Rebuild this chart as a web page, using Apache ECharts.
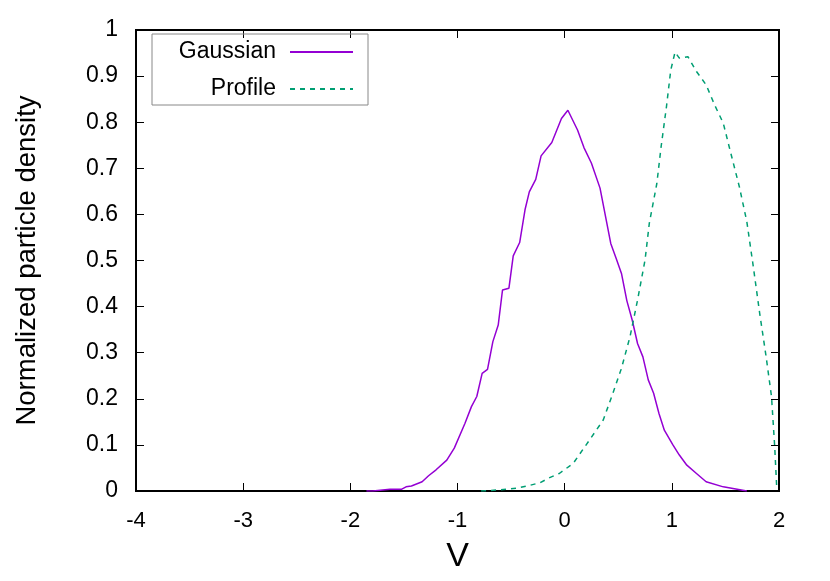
<!DOCTYPE html>
<html>
<head>
<meta charset="utf-8">
<script src="https://cdn.jsdelivr.net/npm/echarts@6/dist/echarts.min.js"></script>
<style>html,body{margin:0;padding:0;background:#fff}#c{width:830px;height:581px}</style>
</head>
<body>
<div id="c"></div>
<script>
const gaussX = [-1.85,-1.79,-1.63,-1.52,-1.48,-1.43,-1.33,-1.27,-1.20,-1.10,-1.03,-0.93,-0.87,-0.82,-0.77,-0.72,-0.67,-0.62,-0.58,-0.52,-0.48,-0.42,-0.37,-0.33,-0.27,-0.22,-0.12,-0.03,0.03,0.12,0.18,0.25,0.33,0.43,0.48,0.53,0.58,0.63,0.68,0.73,0.78,0.83,0.88,0.93,1.01,1.07,1.14,1.23,1.32,1.48,1.70];
const gaussY = [0,0,0.004,0.004,0.009,0.011,0.02,0.033,0.046,0.067,0.093,0.147,0.183,0.205,0.255,0.264,0.324,0.36,0.436,0.44,0.51,0.539,0.61,0.649,0.676,0.727,0.756,0.808,0.826,0.783,0.745,0.711,0.657,0.537,0.505,0.472,0.413,0.371,0.32,0.291,0.241,0.212,0.168,0.132,0.1,0.078,0.056,0.038,0.02,0.009,0];
const profX = [-0.78,-0.64,-0.45,-0.33,-0.23,-0.14,-0.05,0.08,0.23,0.36,0.45,0.53,0.61,0.68,0.75,0.79,0.86,0.90,0.95,0.99,1.03,1.07,1.15,1.23,1.32,1.40,1.48,1.55,1.63,1.70,1.76,1.82,1.88,1.93,1.96,1.98];
const profY = [0,0.002,0.006,0.012,0.018,0.029,0.038,0.06,0.11,0.154,0.212,0.266,0.335,0.414,0.501,0.581,0.667,0.747,0.834,0.913,0.952,0.939,0.942,0.91,0.881,0.837,0.798,0.733,0.66,0.584,0.487,0.385,0.291,0.205,0.096,0.002];
const seriesNames = ['Gaussian','Profile'];
const xTitle = 'V';
const yTitle = 'Normalized particle density';

const zip = (a,b)=>a.map((v,i)=>[v,b[i]]);
const chart = echarts.init(document.getElementById('c'));
const font = 'Liberation Sans, Arial, sans-serif';
const tick = {show:true, inside:true, length:8, lineStyle:{color:'#000', width:1}};
const line = {show:true, onZero:false, lineStyle:{color:'#000', width:2}};
chart.setOption({
  animation:false,
  grid:{left:136,right:51,top:30,bottom:90,show:true,borderColor:'#000',borderWidth:2},
  legend:{
    left:152, top:34, orient:'vertical', align:'right',
    padding:[6,14,4,14], itemGap:13, itemWidth:63, itemHeight:14,
    borderColor:'#888', borderWidth:1, borderRadius:0,
    itemStyle:{color:'transparent', borderWidth:0},
    textStyle:{fontFamily:font, fontSize:23, color:'#000', width:110, align:'right', lineHeight:24, padding:[0,9,0,0]},
    data:seriesNames.map(n=>({name:n}))
  },
  xAxis:[{
    type:'value', min:-4, max:2, interval:1,
    name:xTitle, nameLocation:'middle', nameGap:49,
    nameTextStyle:{fontFamily:font, fontSize:34, color:'#000'},
    axisLine:line, axisTick:tick, splitLine:{show:false},
    axisLabel:{fontFamily:font, fontSize:22, color:'#000', margin:19}
  },{
    type:'value', position:'top', min:-4, max:2, interval:1,
    axisLine:line, axisTick:tick, axisLabel:{show:false}, splitLine:{show:false}
  }],
  yAxis:[{
    type:'value', min:0, max:1, interval:0.1,
    name:yTitle, nameLocation:'middle', nameGap:95,
    nameTextStyle:{fontFamily:font, fontSize:27.5, color:'#000'},
    axisLine:line, axisTick:tick, splitLine:{show:false},
    axisLabel:{fontFamily:font, fontSize:23, color:'#000', margin:18}
  },{
    type:'value', position:'right', min:0, max:1, interval:0.1,
    axisLine:line, axisTick:tick, axisLabel:{show:false}, splitLine:{show:false}
  }],
  series:[{
    name:seriesNames[0], type:'line', symbol:'none', data:zip(gaussX,gaussY),
    lineStyle:{color:'#9400D3', width:1.5}, itemStyle:{color:'#9400D3'}
  },{
    name:seriesNames[1], type:'line', symbol:'none', data:zip(profX,profY),
    lineStyle:{color:'#009E73', width:1.5, type:[5,5]}, itemStyle:{color:'#009E73'}
  }]
});
</script>
</body>
</html>
